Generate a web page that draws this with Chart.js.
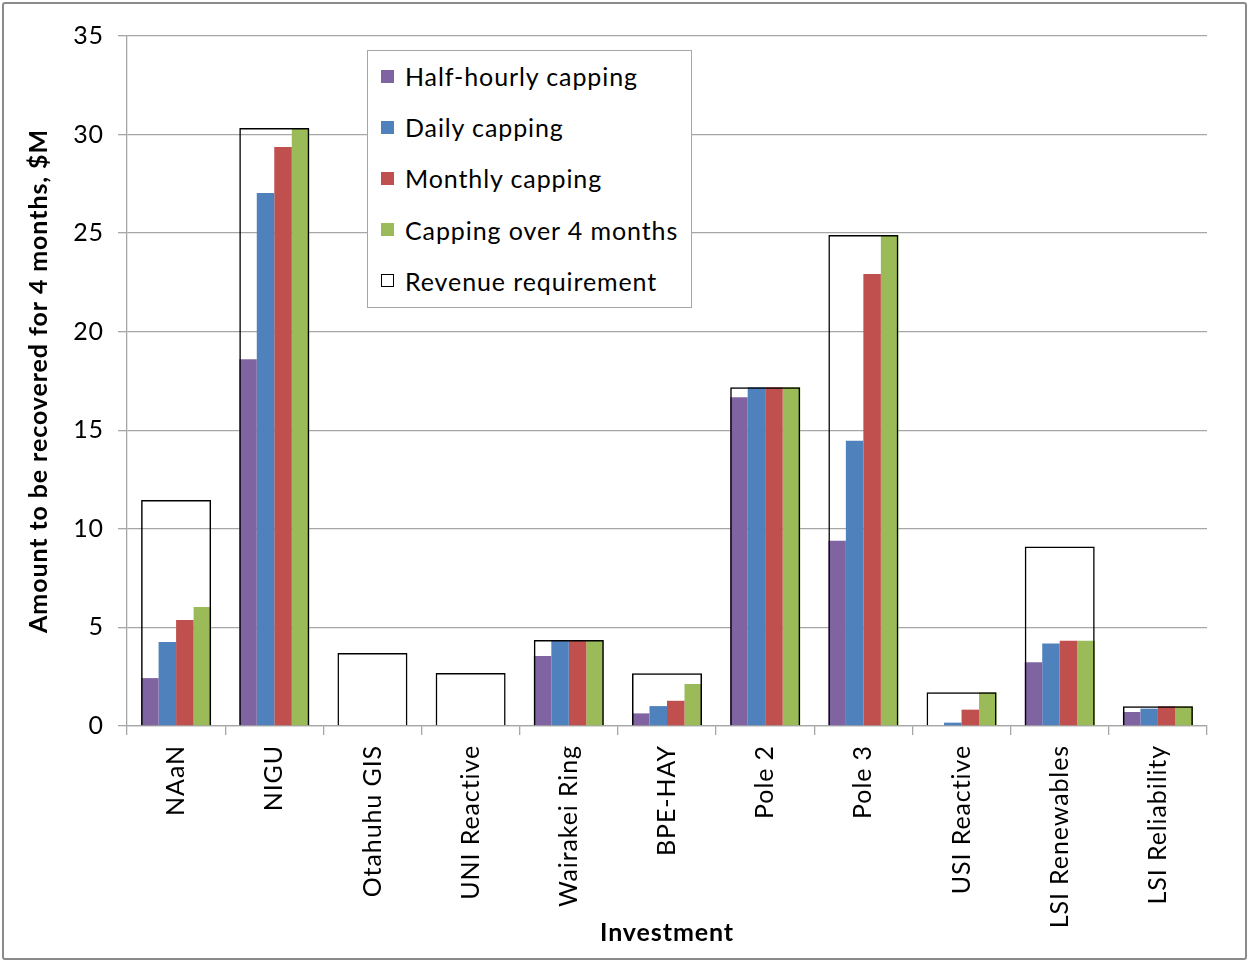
<!DOCTYPE html>
<html>
<head>
<meta charset="utf-8">
<title>Amount to be recovered for 4 months</title>
<script src="https://cdn.jsdelivr.net/npm/chart.js@4"></script>
<style>
  html, body { margin: 0; padding: 0; background: #fff; }
  #wrap { position: relative; width: 1249px; height: 962px; font-family: Lato, sans-serif; overflow: hidden; }
  #chart { position: absolute; left: 0; top: 0; }
  #frame { position: absolute; left: 2px; top: 2px; right: 2px; bottom: 2px; border: 2px solid #8a8a8a; border-radius: 3px; pointer-events: none; }
  #legend { position: absolute; left: 367px; top: 50px; width: 325px; height: 258px; border: 1px solid #a6a6a6; background: #fff; box-sizing: border-box; }
  .item { position: absolute; left: 13px; height: 30px; display: flex; align-items: center; font-size: 25px; letter-spacing: 0.9px; color: #000; white-space: nowrap; }
  .swatch { width: 13px; height: 13px; margin-right: 11px; box-sizing: border-box; }
</style>
</head>
<body>
<div id="wrap">
  <canvas id="chart" width="1249" height="962"></canvas>
  <div id="legend"></div>
  <div id="frame"></div>
</div>
<script>
// investments along the category axis
const investments = ['NAaN', 'NIGU', 'Otahuhu GIS', 'UNI Reactive', 'Wairakei Ring', 'BPE-HAY',
                     'Pole 2', 'Pole 3', 'USI Reactive', 'LSI Renewables', 'LSI Reliability'];

// $M recovered over 4 months under each capping scheme
const halfHourly  = [2.43, 18.6, 0, 0, 3.55, 0.64, 16.67, 9.40, 0, 3.23, 0.71];
const daily       = [4.26, 27.04, 0, 0, 4.36, 1.01, 17.18, 14.47, 0.17, 4.19, 0.88];
const monthly     = [5.38, 29.37, 0, 0, 4.36, 1.28, 17.18, 22.93, 0.83, 4.33, 1.00];
const fourMonths  = [6.04, 30.28, 0, 0, 4.36, 2.13, 17.18, 24.90, 1.71, 4.33, 1.00];
const revenueReq  = [11.46, 30.33, 3.70, 2.69, 4.36, 2.67, 17.18, 24.90, 1.71, 9.10, 1.00];

const seriesNames  = ['Half-hourly capping', 'Daily capping', 'Monthly capping', 'Capping over 4 months', 'Revenue requirement'];
const seriesColors = ['#8064A2', '#4F81BD', '#C0504D', '#9BBB59', '#FFFFFF'];

const Y_MIN = 0, Y_MAX = 35, Y_STEP = 5;
const FONT = 'Lato';
const GRID = '#a6a6a6';
const GROUP_PCT = 0.713;

function capDataset(i, data) {
  return {
    label: seriesNames[i],
    data,
    backgroundColor: seriesColors[i],
    borderWidth: 0,
    categoryPercentage: GROUP_PCT,
    barPercentage: 1,
    order: 1,
  };
}

// custom legend box sitting inside the plot
const legendEl = document.getElementById('legend');
seriesNames.forEach((name, i) => {
  const row = document.createElement('div');
  row.className = 'item';
  row.style.top = (10 + i * 51.2) + 'px';
  const sw = document.createElement('span');
  sw.className = 'swatch';
  sw.style.background = seriesColors[i];
  if (i === 4) sw.style.border = '1.5px solid #000';
  row.appendChild(sw);
  row.appendChild(document.createTextNode(name));
  legendEl.appendChild(row);
});

// a touch of tracking on all canvas text (resize resets the context state)
const spacing = {
  id: 'spacing',
  beforeUpdate: c => { c.ctx.letterSpacing = '0.9px'; },
  beforeDraw:   c => { c.ctx.letterSpacing = '0.9px'; },
};

new Chart(document.getElementById('chart'), {
  type: 'bar',
  data: {
    labels: investments,
    datasets: [
      capDataset(0, halfHourly),
      capDataset(1, daily),
      capDataset(2, monthly),
      capDataset(3, fourMonths),
      {
        // outline spanning the whole group, overlapping the capped bars
        label: seriesNames[4],
        data: revenueReq,
        grouped: false,
        backgroundColor: 'rgba(0,0,0,0)',
        borderColor: '#000',
        borderWidth: 1.5,
        categoryPercentage: GROUP_PCT,
        barPercentage: 1,
        order: 0,
      },
    ],
  },
  plugins: [spacing],
  options: {
    responsive: false,
    maintainAspectRatio: false,
    animation: false,
    layout: { padding: { left: 12, right: 42, top: 36, bottom: 10 } },
    plugins: { legend: { display: false }, tooltip: { enabled: false } },
    scales: {
      x: {
        offset: true,
        ticks: {
          font: { family: FONT, size: 25 }, color: '#000',
          minRotation: 90, maxRotation: 90, autoSkip: false, padding: 10,
        },
        grid: { display: true, drawOnChartArea: false, offset: true, color: GRID, lineWidth: 1.3, tickLength: 9 },
        border: { color: GRID, width: 1.3 },
        title: {
          display: true, text: 'Investment', color: '#000',
          font: { family: FONT, size: 25, weight: 'bold' }, padding: { top: 0, bottom: 4 },
        },
        afterFit: s => { s.height = 226; s.paddingLeft = 0; s.paddingRight = 0; },
      },
      y: {
        min: Y_MIN, max: Y_MAX,
        ticks: { stepSize: Y_STEP, font: { family: FONT, size: 25 }, color: '#000', padding: 14 },
        grid: { color: GRID, lineWidth: 1.3, tickLength: 9 },
        border: { color: GRID, width: 1.3 },
        title: {
          display: true, text: 'Amount to be recovered for 4 months, $M', color: '#000',
          font: { family: FONT, size: 25, weight: 'bold' }, padding: { top: 12, bottom: 0 },
        },
        afterFit: s => { s.width = 115; s.paddingTop = 0; s.paddingBottom = 0; },
      },
    },
  },
});
</script>
</body>
</html>
